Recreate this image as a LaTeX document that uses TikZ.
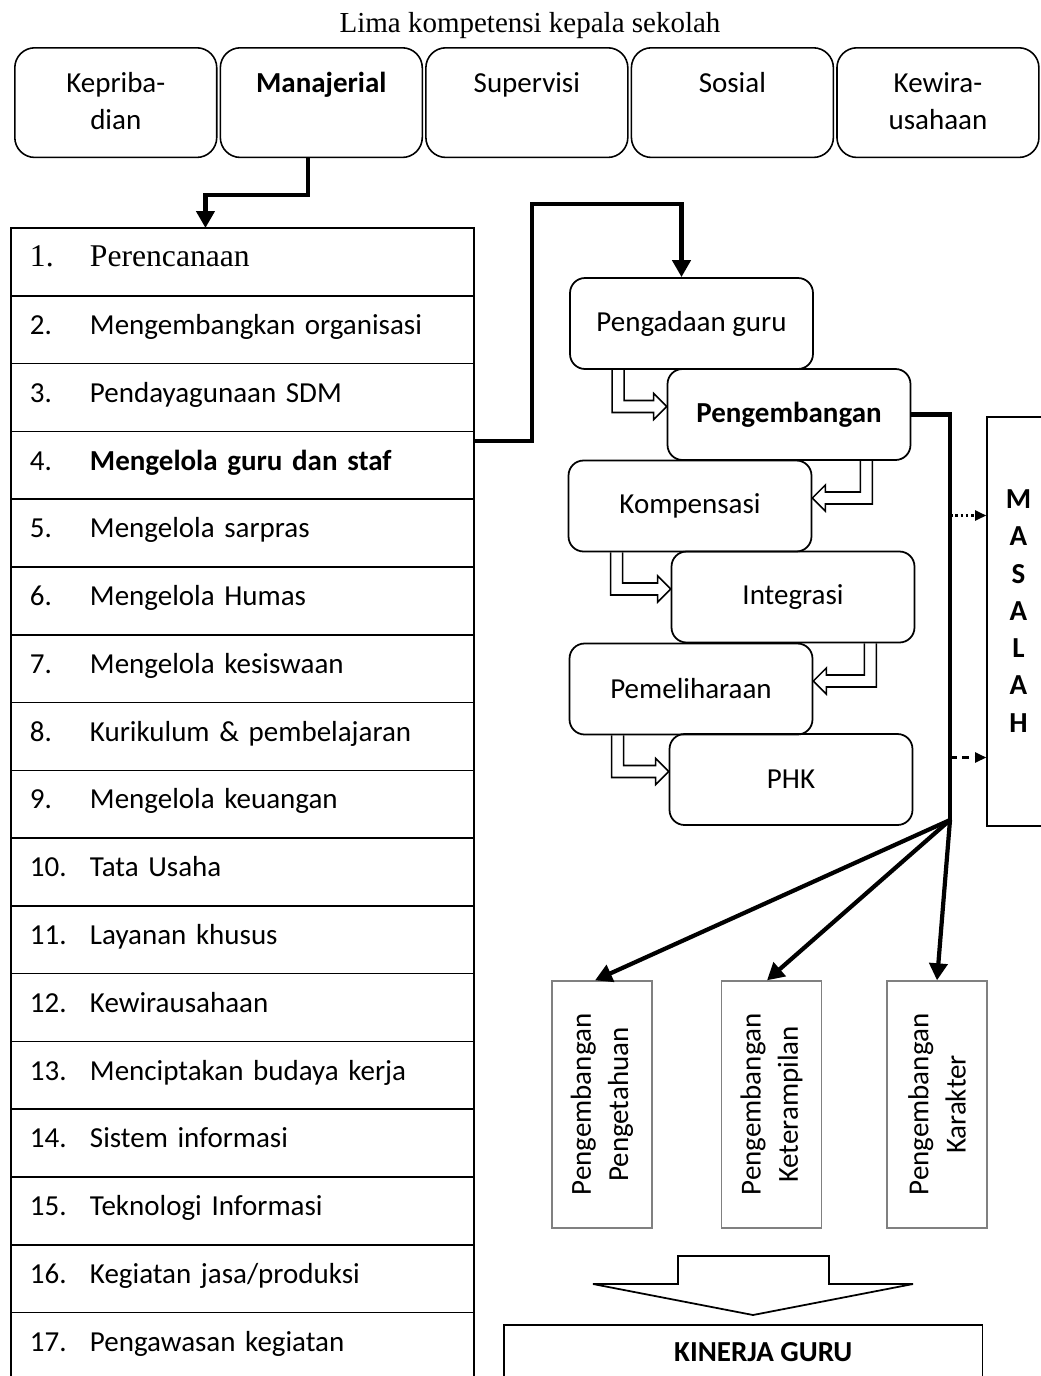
\documentclass[tikz,border=0pt]{standalone}
\usepackage{fontspec}
\setmainfont{Carlito}
\newfontfamily\timesfont{Liberation Serif}
\usetikzlibrary{positioning, arrows.meta, calc}
\newcommand{\boxfont}{\fontsize{16.5}{21.2}\selectfont}
\newcommand{\rn}[1]{\makebox[1.2cm][l]{#1}}
\newcommand{\bendright}[2]{%
  \draw[hollow] ($(#1.south west)+(43,0)$) coordinate (s)
    |- ($(#2.west)+(-13,-2)$) -- ++(0,7) -- ++(13,-13) -- ++(-13,-13) -- ++(0,7) -| ($(s)+(12,0)$);}
\newcommand{\bendleft}[2]{%
  \draw[hollow] ($(#1.south east)+(-39,0)$) coordinate (s)
    |- ($(#2.east)+(13,-2)$) -- ++(0,7) -- ++(-13,-13) -- ++(13,-13) -- ++(0,7) -| ($(s)+(-12,0)$);}

\begin{document}
\begin{tikzpicture}[x=0.02cm, y=-0.02cm,
  node distance=0.04cm and 0.04cm,
  comp/.style={draw, line width=0.9pt, rounded corners=0.4cm, minimum width=4.04cm, inner ysep=0pt,
               text height=25.2pt, text depth=37.2pt, align=center, font=\boxfont},
  comp2/.style={comp, text height=46.4pt, text depth=16pt},
  row/.style={draw, line width=0.9pt, minimum height=1.356cm, text width=8.5cm, inner xsep=0.38cm,
              inner ysep=0pt, text height=10.7pt, text depth=5.3pt, outer sep=0pt, font=\boxfont},
  proc/.style={draw, line width=1pt, rounded corners=0.3cm, minimum width=4.86cm, minimum height=1.82cm,
               font=\boxfont},
  devbox/.style={draw=gray, line width=0.8pt, rotate=90, minimum width=4.94cm, minimum height=2cm,
                 align=center, font=\boxfont},
  thickarrow/.style={-{Triangle[length=0.34cm, width=0.36cm]}, line width=2.4pt},
  smallarrow/.style={-{Triangle[length=0.22cm, width=0.2cm]}, line width=1.2pt},
  hollow/.style={line width=0.9pt, line join=miter}
]
  \useasboundingbox (0,0) rectangle (1041,1376);
  \clip (0,0) rectangle (1041,1376);

  \node[font=\timesfont\fontsize{16.5}{20}\selectfont] (title) at (530,26) {Lima kompetensi kepala sekolah};

  \node[comp2, anchor=north west] (k1) at (14,47) {Kepriba-\\dian};
  \node[comp, right=of k1] (k2) {\textbf{Manajerial}};
  \node[comp, right=of k2] (k3) {Supervisi};
  \node[comp, right=of k3] (k4) {Sosial};
  \node[comp2, right=of k4] (k5) {Kewira-\\usahaan};

  \node[row, anchor=north west, font=\timesfont\fontsize{18}{21}\selectfont] (r1) at (11,228) {\rn{1.}Perencanaan};
  \node[row, below=0pt of r1] (r2) {\rn{2.}Mengembangkan organisasi};
  \node[row, below=0pt of r2] (r3) {\rn{3.}Pendayagunaan SDM};
  \node[row, below=0pt of r3] (r4) {\rn{4.}\textbf{Mengelola guru dan staf}};
  \node[row, below=0pt of r4] (r5) {\rn{5.}Mengelola sarpras};
  \node[row, below=0pt of r5] (r6) {\rn{6.}Mengelola Humas};
  \node[row, below=0pt of r6] (r7) {\rn{7.}Mengelola kesiswaan};
  \node[row, below=0pt of r7] (r8) {\rn{8.}Kurikulum \& pembelajaran};
  \node[row, below=0pt of r8] (r9) {\rn{9.}Mengelola keuangan};
  \node[row, below=0pt of r9] (r10) {\rn{10.}Tata Usaha};
  \node[row, below=0pt of r10] (r11) {\rn{11.}Layanan khusus};
  \node[row, below=0pt of r11] (r12) {\rn{12.}Kewirausahaan};
  \node[row, below=0pt of r12] (r13) {\rn{13.}Menciptakan budaya kerja};
  \node[row, below=0pt of r13] (r14) {\rn{14.}Sistem informasi};
  \node[row, below=0pt of r14] (r15) {\rn{15.}Teknologi Informasi};
  \node[row, below=0pt of r15] (r16) {\rn{16.}Kegiatan jasa/produksi};
  \node[row, below=0pt of r16] (r17) {\rn{17.}Pengawasan kegiatan};

  \node[proc] (p1) at (691.5,323.5) {Pengadaan guru};
  \node[proc, font=\boxfont\bfseries] (p2) at (789,414.5) {Pengembangan};
  \node[proc] (p3) at (690,506) {Kompensasi};
  \node[proc] (p4) at (793,597) {Integrasi};
  \node[proc] (p5) at (691,689) {Pemeliharaan};
  \node[proc] (p6) at (791,779.5) {PHK};

  \bendright{p1}{p2}
  \bendleft{p2}{p3}
  \bendright{p3}{p4}
  \bendleft{p4}{p5}
  \bendright{p5}{p6}

  \node[draw, line width=0.9pt, minimum width=1.26cm, inner sep=0pt, text height=179.4pt, text depth=53.6pt,
        align=center, font=\boxfont\bfseries] (ms) at (1018.5,621.5) {M\\A\\S\\A\\L\\A\\H};

  \node[devbox] (d1) at (602,1104.5) {Pengembangan\\Pengetahuan};
  \node[devbox] (d2) at (771.5,1104.5) {Pengembangan\\Keterampilan};
  \node[devbox] (d3) at (937,1104.5) {Pengembangan\\Karakter};

  \node[draw, line width=0.9pt, anchor=north west, minimum width=9.58cm, minimum height=1.6cm] (kg) at (503,1324) {};
  \node[font=\boxfont\bfseries] (kgtext) at ($(kg.north)+(20,28)$) {KINERJA GURU};

  \draw[thickarrow] ($(k2.south)+(-13,0)$) -- ++(0,37) -| ($(r1.north)+(-37,0)$);
  \draw[thickarrow] ([yshift=-0.2cm]r4.north east) -- ++(58,0) |- ($(p1.north)+(-10,-73)$) -- ($(p1.north)+(-10,0)$);

  \coordinate (jn) at (950,820);
  \draw[line width=2.4pt] (p2.east) -| (jn);
  \draw[thickarrow] (jn) -- ([xshift=-0.14cm]d1.east);
  \draw[thickarrow] (jn) -- ([xshift=-0.09cm]d2.east);
  \draw[thickarrow] (jn) -- (d3.east);

  \coordinate (mtop) at ($(ms.west)+(0,-106)$);
  \coordinate (mbot) at ($(ms.west)+(0,136)$);
  \draw[smallarrow, dash pattern=on 1.5pt off 1.5pt] (jn |- mtop) -- (mtop);
  \draw[smallarrow, dash pattern=on 4pt off 3pt] (jn |- mbot) -- (mbot);

  \draw[line width=1pt, line join=miter] (678,1256) -- (829,1256) -- (829,1284) -- (913,1284)
    -- (753,1315) -- (593,1284) -- (678,1284) -- cycle;
\end{tikzpicture}
\end{document}
